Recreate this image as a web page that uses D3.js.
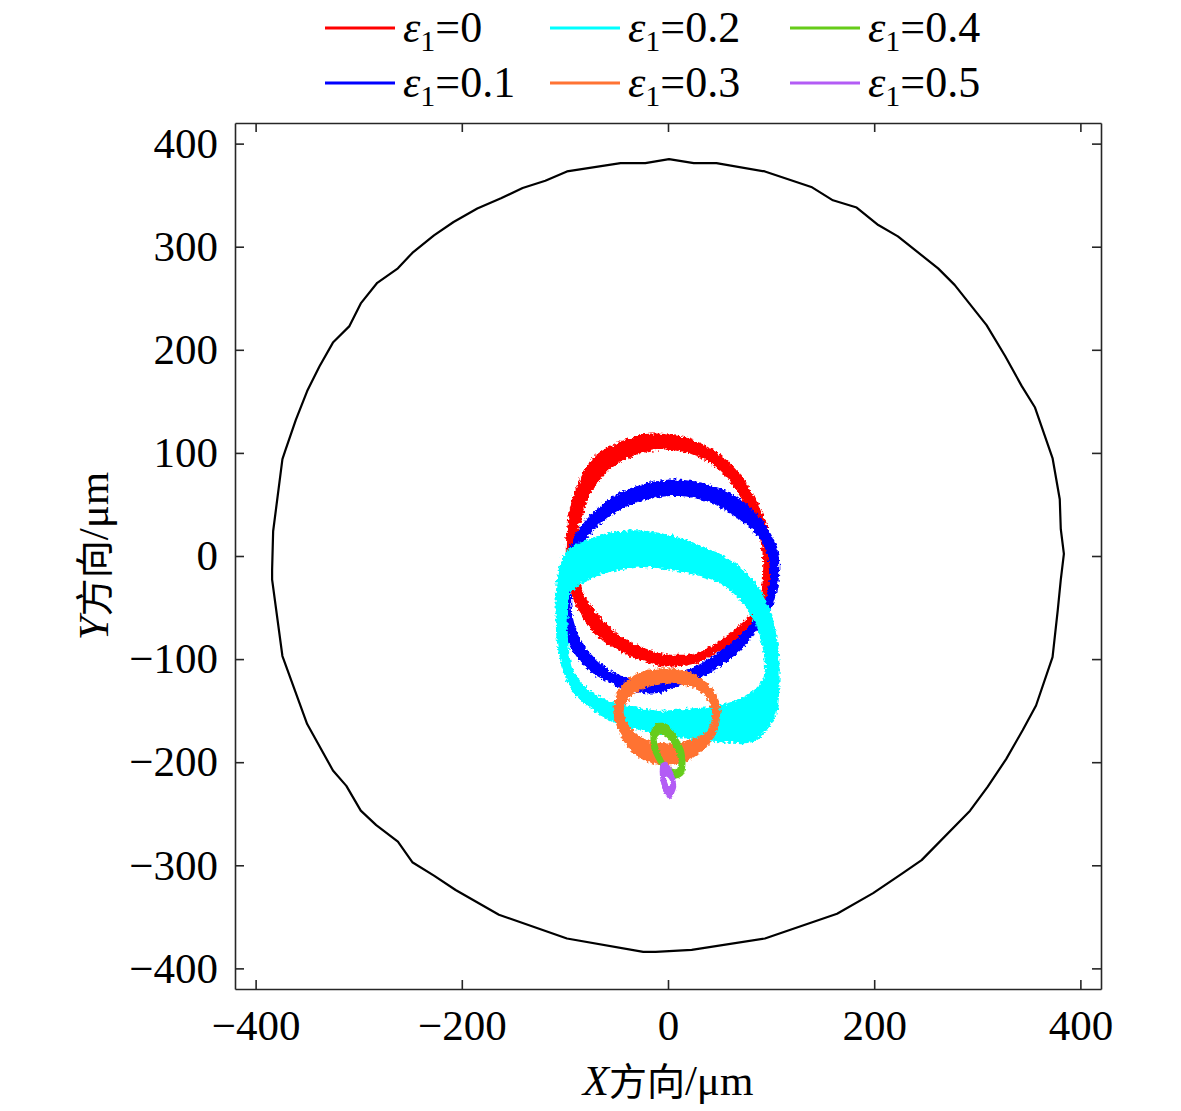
<!DOCTYPE html>
<html>
<head>
<meta charset="utf-8">
<script src="https://cdn.jsdelivr.net/npm/d3@7"></script>
<style>
body { margin: 0; background: #fff; }
text { font-family: "Liberation Serif", "Times New Roman", serif; }
</style>
</head>
<body>
<svg id="chart" width="1181" height="1111">
  <defs>
    <filter id="rough" x="-10%" y="-10%" width="120%" height="120%">
      <feTurbulence type="fractalNoise" baseFrequency="0.35" numOctaves="2" seed="3" result="n"/>
      <feDisplacementMap in="SourceGraphic" in2="n" scale="6" xChannelSelector="R" yChannelSelector="G"/>
    </filter>
    <filter id="roughSmall" x="-20%" y="-20%" width="140%" height="140%">
      <feTurbulence type="fractalNoise" baseFrequency="0.4" numOctaves="2" seed="5" result="n"/>
      <feDisplacementMap in="SourceGraphic" in2="n" scale="3" xChannelSelector="R" yChannelSelector="G"/>
    </filter>
  </defs>
</svg>
<script>
// tick values
const xTicks = [-400, -200, 0, 200, 400]
const yTicks = [-400, -300, -200, -100, 0, 100, 200, 300, 400]

// legend labels (eccentricity)
const epsLabels = ["0", "0.1", "0.2", "0.3", "0.4", "0.5"]
const colors = ["#ff0000", "#0000ff", "#00ffff", "#ff7333", "#66cc1a", "#b35cf5"]

// bearing clearance boundary, um
const boundary = [
  [1,385],[25,381],[47,381],[94,373],[139,358],[160,345],[183,338],[204,321],[223,310],[262,279],
  [278,263],[309,224],[327,194],[343,165],[356,144],[373,95],[380,55],[381,26],[384,2],
  [381,-23],[378,-53],[373,-98],[357,-145],[344,-169],[328,-197],[310,-224],[293,-247],[246,-295],
  [227,-308],[199,-327],[164,-347],[94,-371],[23,-382],[-12,-384],
  [-24,-384],[-98,-371],[-164,-348],[-206,-324],[-227,-310],[-248,-297],[-262,-277],[-283,-261],
  [-298,-247],[-312,-223],[-325,-208],[-350,-163],[-374,-97],[-384,-23],[-384,-13],[-383,24],
  [-374,94],[-371,103],[-361,132],[-350,160],[-338,184],[-325,207],[-309,223],[-298,245],[-282,265],
  [-262,279],[-248,294],[-227,311],[-208,324],[-185,337],[-162,347],[-141,357],[-119,364],[-98,373],
  [-46,381],[-22,381]
]

// orbit bands: outer and inner edge of each trace, um
const redOuter = [[-99,11],[-95,47],[-85,76],[-72,96],[-53,108],[-24,118],[-1,118],[24,113],[51,98],[70,79],[86,53],[97,28],[102,0],[101,-32],[87,-58],[72,-78],[49,-93],[24,-105],[-6,-107],[-35,-98],[-61,-84],[-80,-64],[-93,-39],[-98,-13]]
const redInner = [[-90,8],[-85,34],[-75,60],[-59,82],[-36,96],[-10,103],[15,101],[38,92],[57,76],[73,53],[86,28],[92,0],[91,-32],[82,-54],[65,-71],[46,-85],[24,-95],[-3,-95],[-29,-87],[-51,-74],[-70,-54],[-83,-35],[-88,-13]]

const blueOuter = [[-107,-42],[-104,-13],[-97,4],[-88,24],[-72,43],[-53,58],[-27,69],[-1,74],[28,72],[57,63],[80,47],[96,28],[106,8],[108,-13],[106,-32],[99,-54],[87,-71],[70,-92],[43,-112],[17,-123],[-9,-133],[-36,-131],[-61,-121],[-80,-108],[-95,-88],[-104,-66]]
const blueInner = [[-94,-42],[-93,-18],[-88,4],[-75,21],[-59,37],[-36,50],[-10,57],[15,58],[41,52],[63,40],[83,24],[94,8],[99,-13],[97,-32],[91,-50],[80,-66],[63,-83],[39,-100],[15,-112],[-9,-121],[-35,-119],[-56,-111],[-73,-97],[-85,-81],[-92,-61]]

const cyanOuter = [[-109,-42],[-107,-18],[-101,1],[-90,11],[-70,19],[-49,24],[-27,25],[-6,22],[17,16],[36,8],[55,0],[75,-15],[89,-32],[99,-52],[105,-76],[108,-100],[108,-129],[105,-153],[94,-171],[80,-181],[55,-181],[31,-179],[2,-174],[-27,-169],[-54,-161],[-75,-148],[-92,-132],[-102,-110],[-108,-81]]
const cyanInner = [[-97,-52],[-95,-37],[-87,-29],[-70,-20],[-54,-15],[-22,-11],[10,-15],[43,-23],[62,-35],[75,-49],[85,-66],[91,-85],[94,-105],[91,-122],[75,-136],[49,-145],[22,-148],[-7,-150],[-36,-146],[-61,-139],[-80,-127],[-93,-108],[-97,-81]]

const orangeOuter = [[-53,-152],[-49,-132],[-38,-119],[-22,-111],[-3,-109],[17,-111],[33,-119],[46,-132],[51,-152],[47,-171],[36,-187],[20,-198],[1,-203],[-19,-200],[-35,-190],[-46,-174]]
const orangeInner = [[-43,-152],[-38,-139],[-25,-129],[-3,-124],[20,-126],[36,-135],[43,-152],[39,-168],[26,-177],[4,-182],[-19,-179],[-35,-168]]

const greenOuter = [[-9,-162],[-1,-163],[8,-174],[15,-187],[17,-200],[15,-212],[7,-216],[-1,-212],[-10,-200],[-16,-187],[-17,-173],[-14,-165]]
const greenInner = [[-7,-173],[-1,-176],[5,-184],[10,-197],[9,-206],[4,-206],[-3,-200],[-9,-187],[-11,-177]]

const purpleOuter = [[-7,-202],[-1,-200],[5,-210],[8,-223],[5,-232],[1,-236],[-4,-229],[-7,-219],[-8,-210]]
const purpleInner = [[-2,-214],[1,-216],[3,-221],[1,-223],[-1,-219]]

const bands = [
  [redOuter, redInner],
  [blueOuter, blueInner],
  [cyanOuter, cyanInner],
  [orangeOuter, orangeInner],
  [greenOuter, greenInner],
  [purpleOuter, purpleInner]
]

getChart()

function getChart(){

    const left = 235, right = 1101, top = 123, bottom = 989
    const fontSize = 43
    const axisColor = "#262626"

    const svg = d3.select("#chart")

    const x = d3.scaleLinear().domain([-420, 420]).range([left, right])
    const y = d3.scaleLinear().domain([-420, 420]).range([bottom, top])

    // clearance circle
    const boundLine = d3.line()
        .x(d => x(d[0]))
        .y(d => y(d[1]))
        .curve(d3.curveLinearClosed)

    svg.append("path")
        .attr("d", boundLine(boundary))
        .attr("fill", "none")
        .attr("stroke", "#000")
        .attr("stroke-width", 2.2)
        .attr("stroke-linejoin", "round")

    // orbit bands
    const bandLine = d3.line()
        .x(d => x(d[0]))
        .y(d => y(d[1]))
        .curve(d3.curveCardinalClosed.tension(0.2))

    bands.forEach((b, i) => {
        svg.append("path")
            .attr("d", bandLine(b[0]) + bandLine(b[1]))
            .attr("fill", colors[i])
            .attr("fill-rule", "evenodd")
            .attr("filter", i < 4 ? "url(#rough)" : "url(#roughSmall)")
    })

    // box axes, ticks inward
    const xAxis = svg.append("g")
        .attr("transform", `translate(0,${bottom})`)
        .call(d3.axisBottom(x).tickValues(xTicks).tickSizeInner(-9).tickSizeOuter(0).tickPadding(20))

    const yAxis = svg.append("g")
        .attr("transform", `translate(${left},0)`)
        .call(d3.axisLeft(y).tickValues(yTicks).tickSizeInner(-9).tickSizeOuter(0).tickPadding(17))

    const topAxis = svg.append("g")
        .attr("transform", `translate(0,${top})`)
        .call(d3.axisTop(x).tickValues(xTicks).tickSizeInner(-9).tickSizeOuter(0).tickFormat(""))

    const rightAxis = svg.append("g")
        .attr("transform", `translate(${right},0)`)
        .call(d3.axisRight(y).tickValues(yTicks).tickSizeInner(-9).tickSizeOuter(0).tickFormat(""))

    ;[xAxis, yAxis, topAxis, rightAxis].forEach(g => {
        g.select(".domain").attr("stroke", axisColor).attr("stroke-width", 1.6)
        g.selectAll(".tick line").attr("stroke", axisColor).attr("stroke-width", 1.6)
        g.selectAll("text")
            .attr("font-family", "Liberation Serif, Times New Roman, serif")
            .attr("font-size", fontSize)
            .attr("fill", "#000")
    })

    // axis titles
    const xTitle = svg.append("text")
        .attr("x", (left + right) / 2)
        .attr("y", 1095)
        .attr("text-anchor", "middle")
        .attr("font-size", fontSize)
    xTitle.append("tspan").attr("font-style", "italic").text("X")
    xTitle.append("tspan").attr("font-family", "Noto Sans CJK SC").attr("font-size", 38).text("方向")
    xTitle.append("tspan").text("/μm")

    const yTitle = svg.append("text")
        .attr("transform", `translate(108,${(top + bottom) / 2}) rotate(-90)`)
        .attr("text-anchor", "middle")
        .attr("font-size", fontSize)
    yTitle.append("tspan").attr("font-style", "italic").text("Y")
    yTitle.append("tspan").attr("font-family", "Noto Sans CJK SC").attr("font-size", 38).text("方向")
    yTitle.append("tspan").text("/μm")

    // legend, 3 columns x 2 rows
    const legendCols = [325, 550, 790]
    const legendRows = [28, 83]

    epsLabels.forEach((lab, i) => {
        const lx = legendCols[Math.floor(i / 2)]
        const ly = legendRows[i % 2]

        svg.append("line")
            .attr("x1", lx).attr("x2", lx + 70)
            .attr("y1", ly).attr("y2", ly)
            .attr("stroke", colors[i])
            .attr("stroke-width", 3)

        const t = svg.append("text")
            .attr("x", lx + 78)
            .attr("y", ly + 14)
            .attr("font-size", 44)
        t.append("tspan").attr("font-style", "italic").text("ε")
        t.append("tspan").attr("font-size", 30).attr("dy", 9).text("1")
        t.append("tspan").attr("dy", -9).text("=" + lab)
    })
}
</script>
</body>
</html>
